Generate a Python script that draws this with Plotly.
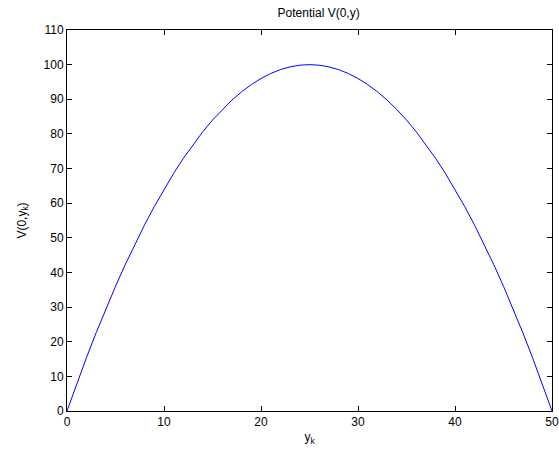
import plotly.graph_objects as go

y_k = list(range(0, 51))
V_left = [0, 7.84, 15.36, 22.56, 29.44, 36.0, 42.24, 48.16, 53.76, 59.04, 64.0,
          68.64, 72.96, 76.96, 80.64, 84.0, 87.04, 89.76, 92.16, 94.24, 96.0,
          97.44, 98.56, 99.36, 99.84, 100.0]
V = V_left + V_left[-2::-1]

x_ticks = [0, 10, 20, 30, 40, 50]
y_ticks = [0, 10, 20, 30, 40, 50, 60, 70, 80, 90, 100, 110]

fig = go.Figure()
fig.add_trace(go.Scatter(x=y_k, y=V, mode="lines",
                         line=dict(color="#0000FF", width=1), showlegend=False))

font = dict(family="Liberation Sans, Arial, sans-serif", size=12, color="black")
axis_common = dict(showline=True, linecolor="black", linewidth=1, mirror="ticks",
                   ticks="inside", ticklen=5, tickcolor="black", tickwidth=1,
                   showgrid=False, zeroline=False, tickfont=font, automargin=False)

fig.update_layout(
    width=559, height=452,
    margin=dict(l=67, r=7, t=30, b=41, autoexpand=False),
    paper_bgcolor="white", plot_bgcolor="white",
    title=dict(text="Potential V(0,y)", x=0.57, xanchor="center", y=0.972,
               yanchor="middle", font=font),
    xaxis=dict(range=[0, 50], tickvals=x_ticks,
               title=dict(text="y<sub>k</sub>", font=font, standoff=4), **axis_common),
    yaxis=dict(range=[0, 110], tickvals=y_ticks,
               title=dict(text="V(0,y<sub>k</sub>)", font=font, standoff=14), **axis_common),
    font=font,
)

fig.write_html("out.html")
